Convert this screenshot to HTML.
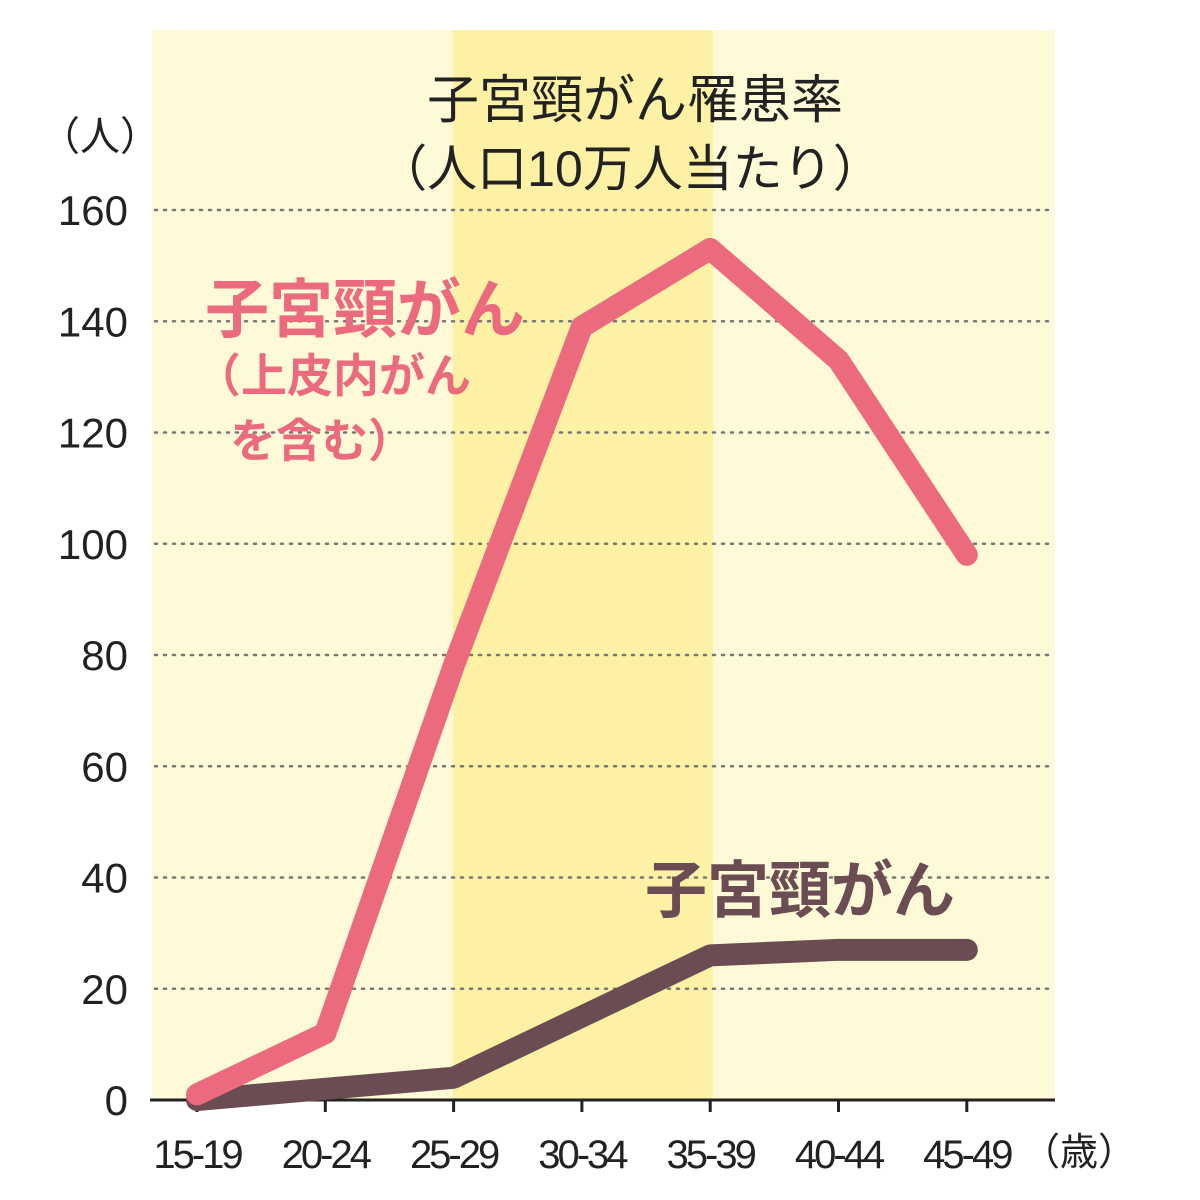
<!DOCTYPE html>
<html><head><meta charset="utf-8"><style>
html,body{margin:0;padding:0;background:#fff;}
svg{display:block;}
text{font-family:"Liberation Sans","Noto Sans CJK JP",sans-serif;}
</style></head><body>
<svg id="chart" width="1200" height="1200" viewBox="0 0 1200 1200">
<rect x="152" y="30" width="903" height="1070" fill="#fef9d6"/>
<rect x="453" y="30" width="260" height="1070" fill="#fcf1a4"/>
<g id="grid"></g>
<g id="axes"></g>
<g id="series"></g>
<text x="635" y="118" font-size="52" text-anchor="middle" fill="#222">子宮頸がん罹患率</text>
<text x="630" y="186" font-size="50" text-anchor="middle" fill="#222">（人口10万人当たり）</text>
<text x="40" y="150" font-size="40" fill="#222">（人）</text>
<text x="1022" y="1165" font-size="38" fill="#222">（歳）</text>
<text x="205" y="332" font-size="64" font-weight="bold" fill="#ec6a7d">子宮頸がん</text>
<text x="195" y="392" font-size="46" font-weight="bold" fill="#ec6a7d">（上皮内がん</text>
<text x="230" y="457" font-size="46" font-weight="bold" fill="#ec6a7d">を含む）</text>
<text x="645" y="912" font-size="62" font-weight="bold" fill="#6b4c52">子宮頸がん</text>
</svg>
<script>
const categories=["15-19","20-24","25-29","30-34","35-39","40-44","45-49"];
const inSituValues=[1,12,78,139,153,133,98];
const invasiveValues=[0,2,4,15,26,27,27];
const yTicks=[0,20,40,60,80,100,120,140,160];
const NS="http://www.w3.org/2000/svg";
function xPos(i){return 197+i*128.3;}
function yPos(v){return 1100-v*(890/160);}
const grid=document.getElementById('grid'),axes=document.getElementById('axes'),series=document.getElementById('series');
function mk(tag,attrs,parent){const e=document.createElementNS(NS,tag);for(const k in attrs)e.setAttribute(k,attrs[k]);parent.appendChild(e);return e;}
yTicks.forEach(t=>{
  if(t>0){const l=mk('line',{x1:155,x2:1052,y1:yPos(t),y2:yPos(t),stroke:'#777','stroke-width':2.5,'stroke-dasharray':'2 7','stroke-linecap':'round'},grid);
  
  }
  const tx=mk('text',{x:128,y:yPos(t)+15,'font-size':42,'text-anchor':'end',fill:'#222'},axes);
  tx.textContent=t;
  
  
});
const ax=mk('line',{x1:150,x2:1055,y1:1100,y2:1100,stroke:'#222','stroke-width':3},axes);


categories.forEach((c,i)=>{
  const tk=mk('line',{x1:xPos(i),x2:xPos(i),y1:1100,y2:1112,stroke:'#222','stroke-width':3},axes);
  
  
  const tx=mk('text',{x:xPos(i),y:1168,'font-size':40,'text-anchor':'middle',fill:'#222','letter-spacing':'-3'},axes);
  tx.textContent=c;
  
  
});
function line(vals,color,name){
  const p=mk('polyline',{points:vals.map((v,i)=>xPos(i)+','+yPos(v)).join(' '),fill:'none',stroke:color,'stroke-width':22,'stroke-linejoin':'round','stroke-linecap':'round'},series);
  
  
}
line(invasiveValues,'#6b4c52','invasive-line');
line(inSituValues,'#ec6a7d','in-situ-line');
</script>
</body></html>
